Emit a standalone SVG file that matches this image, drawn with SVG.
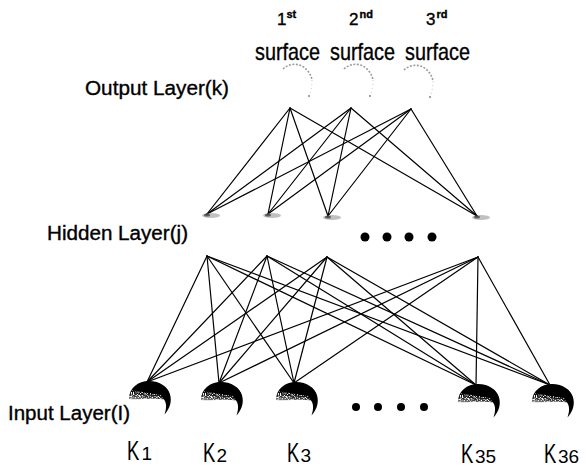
<svg xmlns="http://www.w3.org/2000/svg" width="586" height="470" viewBox="0 0 586 470">
  <style>
    .lbl { font-family: "Liberation Sans", Arial, sans-serif; fill: #000; stroke: #000; stroke-width: 0.35; }
    .kname { font-family: "Liberation Sans", Arial, sans-serif; fill: #000; }
    .edge { stroke: #000; stroke-width: 1.2; fill: none; stroke-linecap: round; }
    .dot { fill: #000; }
    .ghost { fill: none; stroke: #9a9a9a; stroke-width: 1.6; stroke-dasharray: 2 1.5; }
    .ghost2 { fill: none; stroke: #c8c8c8; stroke-width: 1; stroke-dasharray: 1 3; }
    .smudge { fill: #8c8c8c; opacity: 0.55; }
  </style>
  <defs>
    <linearGradient id="domeFill" x1="0.2" y1="0" x2="0" y2="1">
      <stop offset="0" stop-color="#000"/>
      <stop offset="0.55" stop-color="#000"/>
      <stop offset="0.8" stop-color="#3a3a3a"/>
      <stop offset="1" stop-color="#9c9c9c"/>
    </linearGradient>
    <!-- white speckles for the stippled lower rim -->
    <filter id="speckle" x="0" y="0" width="100%" height="100%">
      <feTurbulence type="fractalNoise" baseFrequency="0.9" numOctaves="1" seed="7" result="n"/>
      <feColorMatrix in="n" type="matrix" values="0 0 0 0 1  0 0 0 0 1  0 0 0 0 1  0 0 0 5 -2.4" result="m"/>
      <feComposite in="m" in2="SourceGraphic" operator="in"/>
    </filter>
    <!-- input neuron: shaded dome with a crescent tail, origin at the apex -->
    <g id="inNode">
      <path d="M -18,17 C -18,6 -9,-1 2,-1 C 13,-1 21,5 22.5,12 L 18,17.5 C 6,15.5 -6,18 -18,17 Z" fill="url(#domeFill)"/>
      <path d="M -18,17 C -17.8,13 -16.5,10 -14,8 C -4,10.5 8,11.5 19,14 L 18,17.5 C 6,15.5 -6,18 -18,17 Z" fill="#fff" filter="url(#speckle)"/>
      <path d="M 17,4.5 C 25.5,10 26.5,23 17.5,32.5 C 20,25 20,19 14,14 Z" fill="#000"/>
    </g>
    <!-- faded neuron (hidden layer): small grey smear at the apex -->
    <g id="hidNode">
      <ellipse cx="4" cy="1.5" rx="9" ry="2.6" class="smudge"/>
      <ellipse cx="0" cy="1" rx="3" ry="1.6" fill="#333" opacity="0.7"/>
    </g>
    <!-- faded neuron (output layer): ghost outline of the dome -->
    <g id="outNode">
      <path d="M -7,-39 C -2,-44 6,-45 12,-42 C 17,-39 21,-34 22,-28" class="ghost"/>
      <path d="M 22,-28 C 22,-22 21,-17 19,-12" class="ghost2"/>
      <circle cx="19" cy="-12" r="0.9" fill="#777"/>
    </g>
  </defs>

  <rect width="586" height="470" fill="#fff"/>

  <!-- connectors -->
  <g id="connectors" class="edge">
    <!-- hidden -> output -->
    <line x1="207" y1="214" x2="290" y2="108"/>
    <line x1="207" y1="214" x2="351" y2="108"/>
    <line x1="207" y1="214" x2="411" y2="109"/>
    <line x1="268" y1="214" x2="290" y2="108"/>
    <line x1="268" y1="214" x2="351" y2="108"/>
    <line x1="268" y1="214" x2="411" y2="109"/>
    <line x1="328" y1="216" x2="290" y2="108"/>
    <line x1="328" y1="216" x2="351" y2="108"/>
    <line x1="328" y1="216" x2="411" y2="109"/>
    <line x1="477" y1="216" x2="290" y2="108"/>
    <line x1="477" y1="216" x2="351" y2="108"/>
    <line x1="477" y1="216" x2="411" y2="109"/>
    <!-- input -> hidden -->
    <line x1="147" y1="382" x2="207" y2="256"/>
    <line x1="147" y1="382" x2="267" y2="256"/>
    <line x1="147" y1="382" x2="327" y2="257"/>
    <line x1="147" y1="382" x2="478" y2="257"/>
    <line x1="219" y1="383" x2="207" y2="256"/>
    <line x1="219" y1="383" x2="267" y2="256"/>
    <line x1="219" y1="383" x2="327" y2="257"/>
    <line x1="219" y1="383" x2="478" y2="257"/>
    <line x1="294" y1="383" x2="207" y2="256"/>
    <line x1="294" y1="383" x2="267" y2="256"/>
    <line x1="294" y1="383" x2="327" y2="257"/>
    <line x1="294" y1="383" x2="478" y2="257"/>
    <line x1="476" y1="385" x2="207" y2="256"/>
    <line x1="476" y1="385" x2="267" y2="256"/>
    <line x1="476" y1="385" x2="327" y2="257"/>
    <line x1="476" y1="385" x2="478" y2="257"/>
    <line x1="550" y1="385" x2="207" y2="256"/>
    <line x1="550" y1="385" x2="267" y2="256"/>
    <line x1="550" y1="385" x2="327" y2="257"/>
    <line x1="550" y1="385" x2="478" y2="257"/>
  </g>

  <!-- output layer -->
  <g id="out1"><use href="#outNode" x="290" y="108"/></g>
  <g id="out2"><use href="#outNode" x="351" y="108"/></g>
  <g id="out3"><use href="#outNode" x="411" y="109"/></g>

  <!-- hidden layer -->
  <g id="hid1"><use href="#hidNode" x="207" y="214"/></g>
  <g id="hid2"><use href="#hidNode" x="268" y="214"/></g>
  <g id="hid3"><use href="#hidNode" x="328" y="216"/></g>
  <g id="hid4"><use href="#hidNode" x="477" y="216"/></g>
  <g id="hidEllipsis">
    <circle class="dot" cx="365" cy="237" r="4.5"/>
    <circle class="dot" cx="387" cy="237" r="4.5"/>
    <circle class="dot" cx="409" cy="237" r="4.5"/>
    <circle class="dot" cx="432" cy="237" r="4.5"/>
  </g>

  <!-- input layer -->
  <g id="in1"><use href="#inNode" x="147" y="382"/></g>
  <g id="in2"><use href="#inNode" x="219" y="383"/></g>
  <g id="in3"><use href="#inNode" x="294" y="383"/></g>
  <g id="in35"><use href="#inNode" x="476" y="385"/></g>
  <g id="in36"><use href="#inNode" x="550" y="385"/></g>
  <g id="inEllipsis">
    <circle class="dot" cx="356" cy="407" r="4"/>
    <circle class="dot" cx="378" cy="407" r="4"/>
    <circle class="dot" cx="401" cy="407" r="4"/>
    <circle class="dot" cx="424" cy="407" r="4"/>
  </g>

  <!-- surface headings -->
  <g id="headings" class="lbl">
    <text x="277" y="25" font-size="17">1</text>
    <text x="286.5" y="18" font-size="11" font-weight="bold">st</text>
    <text x="349" y="25" font-size="17">2</text>
    <text x="359.5" y="18" font-size="11" font-weight="bold">nd</text>
    <text x="426" y="25" font-size="17">3</text>
    <text x="436.5" y="18" font-size="11" font-weight="bold">rd</text>
    <text x="255" y="60" font-size="24" textLength="65" lengthAdjust="spacingAndGlyphs">surface</text>
    <text x="330" y="60" font-size="24" textLength="65" lengthAdjust="spacingAndGlyphs">surface</text>
    <text x="405" y="60" font-size="24" textLength="65" lengthAdjust="spacingAndGlyphs">surface</text>
  </g>

  <!-- layer names -->
  <g id="layerNames" class="lbl">
    <text x="85" y="94.5" font-size="20" textLength="144" lengthAdjust="spacingAndGlyphs">Output Layer(k)</text>
    <text x="47" y="240" font-size="19.5" textLength="141" lengthAdjust="spacingAndGlyphs">Hidden Layer(j)</text>
    <text x="8" y="419.5" font-size="20" textLength="122" lengthAdjust="spacingAndGlyphs">Input Layer(I)</text>
  </g>

  <!-- input variable names: narrow K with a subscript index -->
  <g id="inputNames" class="kname">
    <text x="127" y="460" font-size="28" transform="translate(127 0) scale(0.66 1) translate(-127 0)">K</text>
    <text x="141.5" y="460" font-size="19">1</text>
    <text x="203" y="462" font-size="28" transform="translate(203 0) scale(0.66 1) translate(-203 0)">K</text>
    <text x="216.5" y="462" font-size="19">2</text>
    <text x="287" y="462" font-size="28" transform="translate(287 0) scale(0.66 1) translate(-287 0)">K</text>
    <text x="300.5" y="462" font-size="19">3</text>
    <text x="461" y="463" font-size="28" transform="translate(461 0) scale(0.66 1) translate(-461 0)">K</text>
    <text x="475" y="463" font-size="19">35</text>
    <text x="544" y="463" font-size="28" transform="translate(544 0) scale(0.66 1) translate(-544 0)">K</text>
    <text x="558" y="463" font-size="19">36</text>
  </g>
</svg>
